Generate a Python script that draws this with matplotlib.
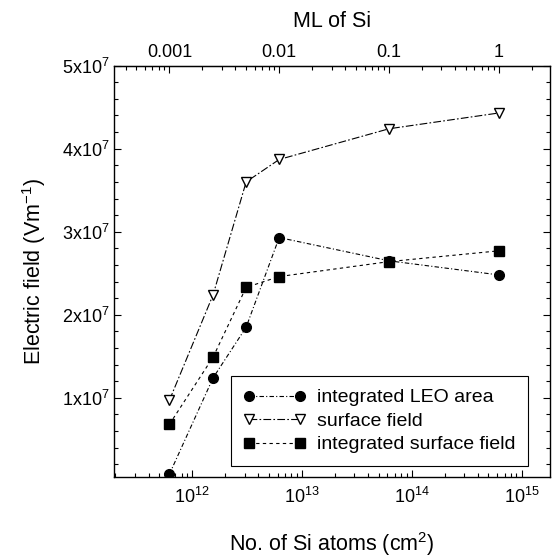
import matplotlib.pyplot as plt
from matplotlib.ticker import MultipleLocator, NullFormatter

""" Data read from the figure """
ML_ATOMS = 6.2e14  # Si atoms per cm2 in one monolayer
n_atoms = [6.2e11, 1.55e12, 3.1e12, 6.2e12, 6.2e13, 6.2e14]
leo_area = [0.08e7, 1.24e7, 1.85e7, 2.93e7, 2.65e7, 2.48e7]
surface_field = [0.97e7, 2.24e7, 3.60e7, 3.87e7, 4.24e7, 4.43e7]
int_surface_field = [0.68e7, 1.49e7, 2.33e7, 2.46e7, 2.64e7, 2.77e7]
y_ticks = [1e7, 2e7, 3e7, 4e7, 5e7]
y_tick_labels = [r'$1\mathrm{x}10^7$', r'$2\mathrm{x}10^7$', r'$3\mathrm{x}10^7$',
                 r'$4\mathrm{x}10^7$', r'$5\mathrm{x}10^7$']
ml_ticks = [0.001, 0.01, 0.1, 1]
ml_tick_labels = ['0.001', '0.01', '0.1', '1']

plt.rcParams['font.family'] = ['Liberation Sans', 'DejaVu Sans']
plt.rcParams['mathtext.fontset'] = 'custom'
plt.rcParams['mathtext.rm'] = 'Liberation Sans'
plt.rcParams['mathtext.it'] = 'Liberation Sans'

fig = plt.figure(figsize=(5.52, 5.57), dpi=100)
ax = fig.add_axes([0.207, 0.1442, 0.789, 0.7379])

lw = 0.8
ax.plot(n_atoms, leo_area, color='black', lw=lw, dashes=(4, 2, 1, 2),
        marker='o', markersize=7, label='integrated LEO area')
ax.plot(n_atoms, surface_field, color='black', lw=lw, dashes=(7, 2, 1.5, 2),
        marker='v', markersize=7, markerfacecolor='white', label='surface field')
ax.plot(n_atoms, int_surface_field, color='black', lw=lw, dashes=(3, 3),
        marker='s', markersize=7, label='integrated surface field')

ax.set_xscale('log')
ax.set_xlim(1.95e11, 1.81e15)
ax.set_ylim(0.05e7, 5e7)
ax.set_yticks(y_ticks)
ax.set_yticklabels(y_tick_labels)
ax.yaxis.set_minor_locator(MultipleLocator(2e6))
ax.tick_params(which='both', direction='in', right=True, labelsize=13, width=0.8)
ax.tick_params(axis='x', pad=7)
ax.tick_params(which='major', length=5)
ax.tick_params(which='minor', length=3)
for s in ax.spines.values():
    s.set_linewidth(1.0)

ax.set_xlabel(r'No. of Si atoms (cm$^2$)', fontsize=15.5, labelpad=17)
ax.set_ylabel(r'Electric field (Vm$^{-1}$)', fontsize=15.5, labelpad=10)

top = ax.secondary_xaxis('top', functions=(lambda x: x / ML_ATOMS, lambda m: m * ML_ATOMS))
top.set_xticks(ml_ticks)
top.set_xticklabels(ml_tick_labels)
top.tick_params(which='both', direction='in', labelsize=13, width=0.8)
top.tick_params(which='major', length=5)
top.tick_params(which='minor', length=3)
top.xaxis.set_minor_formatter(NullFormatter())
top.set_xlabel('ML of Si', fontsize=15.5, labelpad=12)

leg = ax.legend(loc='lower left', bbox_to_anchor=(0.267, 0.026), fontsize=14,
                fancybox=False, edgecolor='black', framealpha=1, handlelength=3.2,
                numpoints=2, borderpad=0.65, labelspacing=0.3, handletextpad=0.6,
                borderaxespad=0)
leg.get_frame().set_linewidth(0.8)

plt.savefig('out.png', dpi=100)
